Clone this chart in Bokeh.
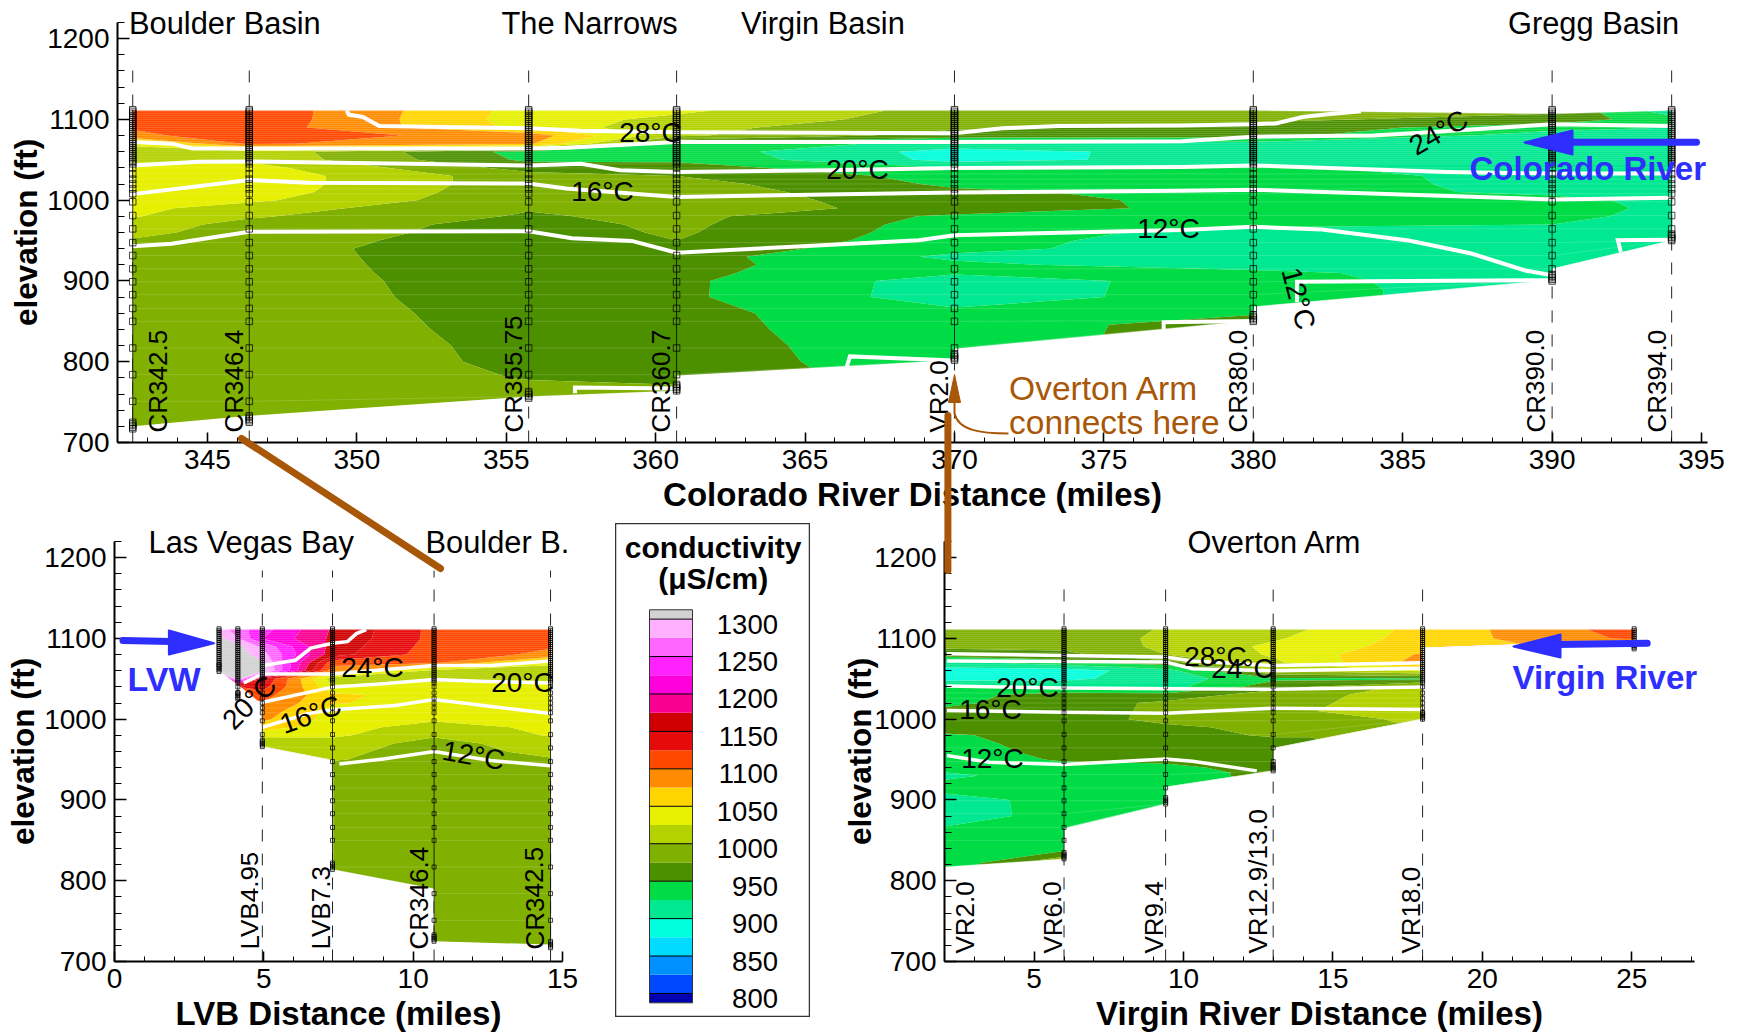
from bokeh.plotting import figure
from bokeh.models import Range1d, FixedTicker, Column
from bokeh.core.properties import value
from bokeh.embed import file_html
from bokeh.resources import INLINE
import numpy as np

FONT = "Liberation Sans"
BROWN = "#A85708"
BLUE = "#2E2EFF"

# ---- conductivity legend -------------------------------------------------
level_edges = [700, 800, 825, 850, 875, 900, 925, 950, 975, 1000, 1025, 1050, 1075,
               1100, 1125, 1150, 1175, 1200, 1225, 1250, 1275, 1300, 1400]
band_colors = ["#0000B0", "#0048FF", "#0090FF", "#00DCFF", "#00FFDC", "#00E890", "#00DC46",
               "#4C9000", "#80B000", "#B4D200", "#E6F000", "#FFD500", "#FF8C00", "#FF4800",
               "#E60A0A", "#D00000", "#F80090", "#FF00DD", "#FF22FF", "#FF66FF", "#FFB0FF", "#D2D2D2"]
legend_labels = [800, 850, 900, 950, 1000, 1050, 1100, 1150, 1200, 1250, 1300]

# ---- elevation rows of the conductivity tables (ft) ----------------------
elev_rows = [1111, 1100, 1090, 1080, 1070, 1060, 1050, 1040, 1030, 1020, 1010, 1000, 990, 980, 970,
             960, 950, 940, 930, 920, 910, 900, 880, 860, 840, 820, 800, 780, 760, 740, 720]

# ---- conductivity at each station, top to bottom (last value repeats) ----
cr342_5 = [1115, 1110, 1102, 1095, 1030, 1015, 1022, 1030, 1037, 1038, 1038, 1036, 1032, 1027, 1012, 1006, 998, 990, 988, 987]
cr346_4 = [1118, 1118, 1115, 1112, 1104, 1018, 1020, 1035, 1040, 1040, 1038, 1030, 1012, 1003, 992, 990, 988]
cr355_75 = [1040, 1038, 1042, 1090, 1080, 940, 945, 965, 985, 985, 982, 980, 977, 972, 966, 964, 960, 953, 955, 957,
            959, 961, 963, 966, 968, 970, 971, 974, 982]
cr360_7 = [1030, 1018, 1008, 1005, 945, 940, 945, 962, 975, 985, 988, 985, 986, 982, 980, 978, 975, 965, 960, 958,
           956, 955, 955, 957, 958, 960, 962, 964, 985]
vr2_0 = [990, 988, 980, 962, 915, 890, 892, 925, 940, 945, 955, 965, 967, 945, 940, 938, 935, 932, 920, 930,
         928, 913, 912, 932, 934, 935]
cr380_left = [985, 980, 965, 960, 915, 912, 910, 930, 938, 940, 940, 938, 938, 935, 930, 915, 910, 910, 910, 912,
              932, 936, 938, 945, 965]
cr380_right = [985, 980, 965, 960, 915, 912, 910, 930, 938, 940, 940, 938, 938, 935, 930, 915, 910, 910, 910, 912,
               932, 936, 938]
cr390 = [975, 965, 935, 912, 910, 910, 910, 912, 915, 915, 918, 935, 938, 937, 925, 915, 912, 910, 910, 910, 908]
cr394 = [912, 935, 925, 910, 910, 910, 910, 910, 910, 910, 912, 915, 918, 912, 910]

lv3_5 = [1290, 1310, 1315]
lv4_1 = [1262, 1275, 1310, 1315, 1315, 1315, 1310, 1140, 1130]
lv4_95 = [1235, 1225, 1270, 1285, 1305, 1315, 1150, 1135, 1110, 1100, 1090, 1080, 1062, 1030, 1010, 1008]
lv7_3 = [1172, 1170, 1165, 1160, 1110, 1085, 1012, 1030, 1055, 1052, 1040, 1040, 1037, 1030, 1012, 1006, 1002, 988]

vr6_0 = [985, 985, 982, 968, 940, 888, 895, 920, 962, 962, 960, 963, 965, 965, 962, 958, 953, 940, 938, 938,
         936, 935, 935, 936, 938, 985]
vr9_4 = [1002, 1005, 1005, 1000, 965, 915, 912, 915, 960, 980, 982, 982, 970, 965, 962, 960, 955, 945, 938, 938, 936]
vr13_0 = [1015, 1022, 1030, 1028, 1020, 1000, 945, 965, 988, 992, 995, 985, 982, 978, 965, 962, 960, 958]
vr18_0 = [1058, 1060, 1062, 1078, 1085, 1030, 945, 1010, 1012, 1012, 1012, 1005]
vr25_1 = [1112, 1105, 1090]

# ---- stations: (distance, surface, bottom, column) -----------------------
top_x = [342.5, 346.4, 355.75, 360.7, 360.72, 370.0, 370.02, 380.0, 380.02, 390.0, 390.02, 394.0]
top_bottom = [720, 733, 757, 764, 783, 802, 816, 851, 868, 901, 915, 950]
top_surface = [1111, 1111, 1111, 1111, 1111, 1111, 1111, 1111, 1111, 1107, 1107, 1111]
top_cols = [cr342_5, cr346_4, cr355_75, cr360_7, cr360_7, vr2_0, vr2_0, cr380_left, cr380_right, cr390, cr390, cr394]

lvb_x = [3.5, 4.13, 4.93, 4.95, 7.3, 7.32, 10.7, 10.72, 14.6]
lvb_bottom = [1059, 1042, 1018, 966, 949, 814, 790, 725, 721]
lvb_surface = [1111] * 9
lvb_cols = [lv3_5, lv4_1, lv4_95, lv4_95, lv7_3, lv7_3, cr346_4, cr346_4, cr342_5]

ovr_x = [2.0, 6.0, 6.02, 9.4, 9.42, 13.0, 13.02, 18.0, 18.02, 25.08]
ovr_bottom = [817, 827, 865, 895, 916, 936, 964, 1000, 1088, 1097]
ovr_surface = [1111] * 10
ovr_cols = [vr2_0, vr6_0, vr6_0, vr9_4, vr9_4, vr13_0, vr13_0, vr18_0, vr18_0, vr25_1]

# ---- measured profile elevations (squares) -------------------------------
sample_elev = [1112, 1110, 1107.5, 1105, 1102.5, 1100, 1097.5, 1095, 1092.5, 1090, 1087.5, 1085, 1082.5, 1080,
               1077.5, 1075, 1072.5, 1070, 1067.5, 1065, 1062.5, 1060, 1057.5, 1055, 1052.5, 1050, 1047.5, 1045,
               1040, 1032.5, 1026, 1020, 1014, 1008, 998, 981, 964.5, 947.5, 931.5, 915, 899, 883, 866, 850, 817,
               784, 751]
top_profiles = [(342.5, 717), (346.4, 725), (355.75, 755), (360.7, 764), (370.0, 802), (380.0, 850), (390.0, 900), (394.0, 950)]
lvb_profiles = [(3.5, 1059), (4.13, 1025), (4.95, 966), (7.3, 814), (10.7, 725), (14.6, 717)]
ovr_profiles = [(6.0, 827), (9.4, 895), (13.0, 936), (18.0, 1000), (25.08, 1087)]

top_dashes = [342.5, 346.4, 355.75, 360.7, 370.0, 380.0, 390.0, 394.0]
lvb_dashes = [4.95, 7.3, 10.7, 14.6]
ovr_dashes = [6.0, 9.4, 13.0, 18.0]

# ---- isotherms -----------------------------------------------------------
top_iso_x = [[349.66, 349.73, 350.2, 350.75, 355.75, 357.5, 360.7, 370, 371.6, 373.5, 377.6, 380, 380.75, 381.65, 382.4, 383.6],
             [342.5, 343.8, 344.5, 346.4, 355.75, 357, 357.5, 360.7, 370, 377.6, 380, 384, 385.2, 390, 394],
             [342.5, 344.7, 346.4, 355.75, 357.5, 358.8, 360.7, 365.8, 370, 377.6, 380, 386.5, 390, 394],
             [342.5, 346.4, 348.4, 355.75, 357, 360.7, 370, 377.6, 380, 390, 394],
             [342.5, 343.8, 346.4, 355.75, 357.2, 359.2, 360.7, 365.4, 368.8, 370, 377.6, 380, 382.3, 385.2, 387.3, 389.1, 390],
             [390, 381.46, 381.46], [380, 377, 377], [370, 366.5, 366.4], [360.7, 357.3, 357.3], [394, 392.2, 392.3]]
top_iso_y = [[1111, 1106, 1103, 1092, 1089, 1086, 1084, 1083, 1089, 1092, 1092.6, 1094, 1095, 1103, 1106, 1110],
             [1072, 1070, 1064, 1064, 1064, 1065, 1066, 1072, 1072, 1073, 1078.5, 1080, 1082.6, 1094, 1092],
             [1043, 1047.5, 1048, 1043, 1045, 1037, 1035, 1037, 1040, 1041, 1043, 1035, 1033, 1033],
             [1007.5, 1025, 1021.5, 1020.6, 1014.5, 1004, 1009.5, 1011.6, 1013, 1001, 1003],
             [943, 946, 961, 961.5, 953, 949.6, 935, 944, 950.4, 956.6, 963, 967, 963.6, 950, 934, 913, 907],
             [901, 899, 874], [850.4, 849, 840], [801.6, 806.6, 794], [767, 768, 761], [951, 950.4, 936]]
lvb_iso_x = [[8.43, 8.1, 7.8, 7.3, 6.57, 6.06, 4.96],
             [4.33, 4.96, 7.3, 10.7, 12.6, 14.6],
             [4.65, 4.96, 7.3, 9, 10.7, 12.2, 14.6],
             [4.96, 6.44, 7.3, 9.4, 10.7, 14.6],
             [7.53, 9, 10.7, 12.6, 14.6]]
lvb_iso_y = [[1111, 1106, 1096, 1094, 1088, 1073, 1066.5],
             [1045, 1056, 1056, 1066.5, 1066.5, 1072],
             [1019, 1021, 1039.7, 1044, 1049, 1047, 1044.7],
             [990, 1006.6, 1011.6, 1017, 1024.4, 1007],
             [944.6, 950.8, 960, 948.8, 942.5]]
ovr_iso_x = [[2.08, 6, 9.4, 10.3, 13, 18], [2.08, 6, 9.4, 10.3, 13, 18], [2.08, 6, 9.4, 13, 18],
             [2.08, 6, 9.4, 13, 18], [2.08, 3.5, 6, 9.4, 10.3, 12.45]]
ovr_iso_y = [[1081, 1079, 1077, 1072, 1066.5, 1070], [1072, 1071.5, 1070.7, 1062.4, 1060, 1063],
             [1041, 1038.6, 1037.6, 1037, 1040], [1010.7, 1008.7, 1007.4, 1013.6, 1012],
             [955, 946.7, 943.8, 950.8, 948, 936]]

# ---- axis ticks ----------------------------------------------------------
elev_major = [700, 800, 900, 1000, 1100, 1200]
elev_minor = [720, 740, 760, 780, 820, 840, 860, 880, 920, 940, 960, 980, 1020, 1040, 1060, 1080,
              1120, 1140, 1160, 1180, 1220]
top_major = [345, 350, 355, 360, 365, 370, 375, 380, 385, 390, 395]
top_minor = [343, 344, 346, 347, 348, 349, 351, 352, 353, 354, 356, 357, 358, 359, 361, 362, 363, 364, 366, 367, 368,
             369, 371, 372, 373, 374, 376, 377, 378, 379, 381, 382, 383, 384, 386, 387, 388, 389, 391, 392, 393, 394]
lvb_major = [0, 5, 10, 15]
lvb_minor = [1, 2, 3, 4, 6, 7, 8, 9, 11, 12, 13, 14]
ovr_major = [5, 10, 15, 20, 25]
ovr_minor = [3, 4, 6, 7, 8, 9, 11, 12, 13, 14, 16, 17, 18, 19, 21, 22, 23, 24, 26, 27]


def absolute(fig, left, top):
    fig.styles = {"position": "absolute", "left": f"{left}px", "top": f"{top}px"}
    fig.frame_align = False


def panel(win_l, win_t, win_r, win_b, fl, ft, fr, fb, xr, xmajor, xminor, ystandoff):
    p = figure(width=win_r - win_l, height=win_b - win_t, x_range=Range1d(*xr), y_range=Range1d(700, 1220),
               output_backend="svg", toolbar_location=None,
               min_border_left=fl - win_l, min_border_right=win_r - fr, min_border_top=ft - win_t,
               min_border_bottom=win_b - fb, background_fill_color=None, border_fill_color=None,
               outline_line_color=None)
    p.grid.visible = False
    p.xaxis.ticker = FixedTicker(ticks=xmajor, minor_ticks=xminor)
    p.yaxis.ticker = FixedTicker(ticks=elev_major, minor_ticks=elev_minor)
    p.yaxis.axis_label = "elevation (ft)"
    for ax in (p.xaxis[0], p.yaxis[0]):
        ax.axis_line_color = "black"
        ax.axis_line_width = 2
        ax.major_tick_line_color = "black"
        ax.minor_tick_line_color = "black"
        ax.major_tick_line_width = 1.6
        ax.minor_tick_line_width = 1
        ax.major_tick_out = 0
        ax.minor_tick_out = 0
        ax.major_label_text_font = FONT
        ax.major_label_text_font_size = "28px"
        ax.major_label_text_color = "black"
        ax.axis_label_text_font = FONT
        ax.axis_label_text_font_style = "bold"
        ax.axis_label_text_font_size = "31.5px"
        ax.axis_label_text_color = "black"
    p.xaxis.major_tick_in = 10
    p.xaxis.minor_tick_in = 5
    p.yaxis.major_tick_in = 12
    p.yaxis.minor_tick_in = 7
    p.xaxis.major_label_standoff = 7
    p.yaxis.major_label_standoff = 8
    p.yaxis.axis_label_standoff = ystandoff
    absolute(p, win_l, win_t)
    return p


def draw_section(p, xs, bottoms, surfaces, cols, iso_x, iso_y, profiles, dashes, dash_top, square, iso_width):
    xs = np.array(xs, dtype=float)
    bottoms = np.array(bottoms, dtype=float)
    surfaces = np.array(surfaces, dtype=float)
    rows = np.array(elev_rows, dtype=float)
    nr, nc = len(rows), len(xs)
    X = np.tile(xs, (nr, 1))
    Y = np.zeros((nr, nc))
    Z = np.zeros((nr, nc))
    for j, col in enumerate(cols):
        c = list(col) + [col[-1]] * (nr - len(col))
        Z[:, j] = c
        Y[:, j] = np.minimum(np.maximum(rows, bottoms[j]), surfaces[j])
    for xd in dashes:
        p.line([xd, xd], [700, dash_top], line_color="#222222", line_width=1, line_dash="12 12")
    p.contour(X, Y, Z, level_edges, fill_color=band_colors, line_color=None)
    # faint sampling mesh between the profiles
    for e in sample_elev:
        ys = np.minimum(np.maximum(e, bottoms), surfaces)
        p.line(xs, ys, line_color="white", line_alpha=0.16, line_width=1)
    p.multi_line(iso_x, iso_y, line_color="white", line_width=iso_width, line_join="miter")
    for xd, low in profiles:
        es = [e for e in sample_elev if e > low + 6] + [low + 8, low + 6, low + 4, low + 2, low]
        p.line([xd, xd], [max(es), min(es)], line_color="black", line_width=0.8)
        p.scatter([xd] * len(es), es, marker="square", size=square, fill_color=None,
                  line_color="black", line_width=0.8, line_alpha=0.9)


# ---- panels --------------------------------------------------------------
p_top = panel(2, 8, 1733, 512, 117, 22, 1707, 442, (341.99, 395.2), top_major, top_minor, 0)
draw_section(p_top, top_x, top_bottom, top_surface, top_cols, top_iso_x, top_iso_y, top_profiles, top_dashes, 1170, 6.5, 4)

p_lvb = panel(2, 512, 600, 1031, 114, 541, 562, 961, (0, 15), lvb_major, lvb_minor, 0)
draw_section(p_lvb, lvb_x, lvb_bottom, lvb_surface, lvb_cols, lvb_iso_x, lvb_iso_y, lvb_profiles, lvb_dashes, 1184, 4, 3.5)

p_ovr = panel(830, 512, 1733, 1031, 944, 541, 1694, 961, (2, 27.1), ovr_major, ovr_minor, -7)
draw_section(p_ovr, ovr_x, ovr_bottom, ovr_surface, ovr_cols, ovr_iso_x, ovr_iso_y, ovr_profiles, ovr_dashes, 1166, 4, 3.5)

# ---- legend box ----------------------------------------------------------
p_leg = figure(width=195, height=494, x_range=Range1d(0, 195), y_range=Range1d(767.9, 1427.7),
               output_backend="svg", toolbar_location=None, x_axis_location=None, y_axis_location=None,
               min_border=0, outline_line_color="#333333", outline_line_width=1.5,
               background_fill_color="white", border_fill_color=None)
p_leg.grid.visible = False
bar_low = [787.5] + level_edges[1:-1]
bar_high = level_edges[1:-1] + [1312.5]
p_leg.quad(left=34, right=77, bottom=bar_low, top=bar_high, fill_color=band_colors, line_color=None)
p_leg.segment(x0=34, x1=77, y0=legend_labels, y1=legend_labels, line_color="black", line_width=1)
p_leg.quad(left=34, right=77, bottom=787.5, top=1312.5, fill_color=None, line_color="#333333", line_width=1)
p_leg.text(x=162.5, y=legend_labels, text=[str(v) for v in legend_labels], text_align="right",
           text_baseline="middle", y_offset=5, text_font=value(FONT), text_font_size="27.5px", text_color="black")
p_leg.text(x=97.7, y=[1396], text=["conductivity"], text_align="center", text_baseline="middle",
           text_font=value(FONT), text_font_style="bold", text_font_size="30px", text_color="black")
p_leg.text(x=97.7, y=[1354], text=["(\u03bcS/cm)"], text_align="center", text_baseline="middle",
           text_font=value(FONT), text_font_style="bold", text_font_size="30px", text_color="black")
absolute(p_leg, 615, 523)

# ---- overlays in window pixels: labels, arrows ---------------------------
ov = figure(width=1725, height=1016, x_range=Range1d(8, 1733), y_range=Range1d(1016, 0),
            output_backend="svg", toolbar_location=None, x_axis_location=None, y_axis_location=None,
            min_border=0, outline_line_color=None, background_fill_color=None, border_fill_color=None)
ov.grid.visible = False
absolute(ov, 8, 0)

ov2 = figure(width=1725, height=36, x_range=Range1d(8, 1733), y_range=Range1d(1032, 996),
             output_backend="svg", toolbar_location=None, x_axis_location=None, y_axis_location=None,
             min_border=0, outline_line_color=None, background_fill_color=None, border_fill_color=None)
ov2.grid.visible = False
absolute(ov2, 8, 996)


def label(x, y, s, size, angle=0, align="center", bold=False, color="black", fig=ov):
    fig.text(x=[x], y=[y], text=[s], angle=[angle], angle_units="deg", text_align=align, text_baseline="middle",
             text_font=value(FONT), text_font_size=f"{size}px", text_font_style="bold" if bold else "normal",
             text_color=color)


# x axis titles
label(912, 494, "Colorado River Distance (miles)", 33, bold=True)
label(338, 1013, "LVB Distance (miles)", 33, bold=True, fig=ov2)
label(1319, 1013, "Virgin River Distance (miles)", 33, bold=True, fig=ov2)

section_titles = [("Boulder Basin", 128.5, 23), ("The Narrows", 501, 23), ("Virgin Basin", 740.5, 23), ("Gregg Basin", 1507.5, 23),
                  ("Las Vegas Bay", 148, 542), ("Boulder B.", 425, 542), ("Overton Arm", 1187, 542)]
for s, x, y in section_titles:
    label(x, y, s, 30.8, align="left")

station_labels = [("CR342.5", 157, 432), ("CR346.4", 233, 432), ("CR355.75", 513, 432), ("CR360.7", 660, 432),
                  ("VR2.0", 938, 432), ("CR380.0", 1237, 432), ("CR390.0", 1535, 432), ("CR394.0", 1656, 432),
                  ("LVB4.95", 249, 949), ("LVB7.3", 320, 949), ("CR346.4", 418, 949), ("CR342.5", 534, 949),
                  ("VR2.0", 964, 953), ("VR6.0", 1052, 953), ("VR9.4", 1153, 953), ("VR12.9/13.0", 1257, 953),
                  ("VR18.0", 1410, 953)]
for s, x, y in station_labels:
    label(x, y, s, 26, angle=90, align="left")

temp_labels = [("28\u00b0C", 650, 132, 0), ("16\u00b0C", 602, 191, 0), ("20\u00b0C", 857, 169, 0), ("12\u00b0C", 1168, 228, 0),
               ("24\u00b0C", 1438, 132, 30), ("12\u00b0C", 1298, 298, -75),
               ("24\u00b0C", 372, 667, 0), ("20\u00b0C", 522, 682, 0), ("20\u00b0C", 249, 702, 45), ("16\u00b0C", 310, 714, 20),
               ("12\u00b0C", 473, 755, -10),
               ("28\u00b0C", 1215, 656, 0), ("24\u00b0C", 1242, 668, 0), ("20\u00b0C", 1027, 687, 0), ("16\u00b0C", 990, 709, 0),
               ("12\u00b0C", 992, 758, 0)]
for s, x, y, a in temp_labels:
    label(x, y, s, 28, angle=a)

# brown connectors
ov.line([241, 440], [438, 568], line_color=BROWN, line_width=7, line_cap="round")
ov.line([947.4, 947.4], [415, 570], line_color=BROWN, line_width=7, line_cap="round")
ov.patch([954, 948, 960], [374, 402, 402], fill_color=BROWN, line_color=BROWN)
ov.line([954, 954], [402, 413], line_color=BROWN, line_width=2)
ov.bezier(x0=[954], y0=[413], x1=[1008], y1=[433], cx0=[958], cy0=[430], cx1=[980], cy1=[433],
          line_color=BROWN, line_width=2)
label(1008.6, 388, "Overton Arm", 33.5, align="left", color=BROWN)
label(1008.6, 421.7, "connects here", 33.5, align="left", color=BROWN)

# blue inflow arrows
ov.line([1696, 1568], [141.7, 141.7], line_color=BLUE, line_width=7, line_cap="round")
ov.patch([1524, 1572, 1572], [142, 130, 154], fill_color=BLUE, line_color=BLUE, line_width=2, line_join="round")
ov.line([122.5, 170], [640, 641], line_color=BLUE, line_width=7, line_cap="round")
ov.patch([213.5, 168.4, 168.4], [642.7, 630, 654], fill_color=BLUE, line_color=BLUE, line_width=2, line_join="round")
ov.line([1646.7, 1556], [642.7, 644], line_color=BLUE, line_width=7, line_cap="round")
ov.patch([1513, 1560, 1560], [646, 634, 657], fill_color=BLUE, line_color=BLUE, line_width=2, line_join="round")
label(1469, 168, "Colorado River", 33, align="left", bold=True, color=BLUE)
label(127, 678, "LVW", 34, align="left", bold=True, color=BLUE)
label(1512, 677, "Virgin River", 33, align="left", bold=True, color=BLUE)

root = Column(children=[p_top, p_lvb, p_leg, p_ovr, ov, ov2], width=1733, height=1016,
              styles={"position": "relative"})
open("out.html", "w").write(file_html(root, INLINE))
